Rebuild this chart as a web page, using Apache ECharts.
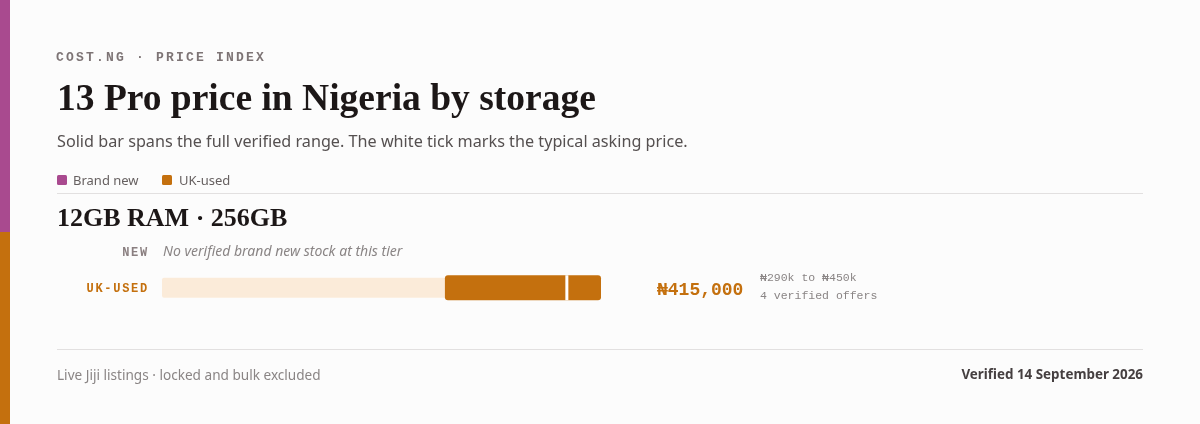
<!DOCTYPE html>
<html><head><meta charset="utf-8">
<script src="https://cdn.jsdelivr.net/npm/echarts@6/dist/echarts.min.js"></script>
<style>html,body{margin:0;padding:0;background:#fcfcfc;}#c{width:1200px;height:424px;}</style>
</head><body><div id="c"></div>
<script>
// ---- data ----
const tiers = ['NEW', 'UK-USED'];
const lowPrice = [null, 290000];
const highPrice = [null, 450000];
const typicalPrice = [null, 415000];
const offerCounts = [0, 4];
const axisMax = 450000;
const legendNames = ['Brand new', 'UK-used'];
const colors = { new: '#a94a8f', used: '#c4700e', track: '#fbebd9' };

const MONO = '"Liberation Mono", "DejaVu Sans Mono", monospace';
const SERIF = '"Liberation Serif", serif';
const SANS = '"Noto Sans", Roboto, sans-serif';

function fmtK(v) { return '\u20A6' + Math.round(v / 1000) + 'k'; }
function fmtFull(v) { return '\u20A6' + v.toLocaleString('en-US'); }
function spaced(str, key) { return str.split('').map(ch => '{' + key + '|' + ch + '}').join(''); }

const seriesData = [];
tiers.forEach((t, i) => {
  if (lowPrice[i] != null) seriesData.push([i, lowPrice[i], highPrice[i], typicalPrice[i]]);
});
const usedIdx = 1;

const chart = echarts.init(document.getElementById('c'), null, { renderer: 'canvas' });
chart.setOption({
  backgroundColor: '#fcfcfc',
  animation: false,
  grid: { left: 162, right: 599, top: 233, height: 73 },
  xAxis: { type: 'value', min: 0, max: axisMax, show: false },
  yAxis: {
    type: 'category', data: tiers, inverse: true,
    axisLine: { show: false }, axisTick: { show: false }, splitLine: { show: false },
    axisLabel: {
      margin: 14,
      formatter: (v, i) => spaced(v, i === 0 ? 'n' : 'u'),
      rich: {
        n: { fontFamily: MONO, fontSize: 12, fontWeight: 'bold', color: '#8a7f80', padding: [3, 0.85, 0, 0.85] },
        u: { fontFamily: MONO, fontSize: 12, fontWeight: 'bold', color: colors.used, padding: [2, 0.85, 0, 0.85] }
      }
    }
  },
  series: [{
    type: 'custom',
    encode: { x: [1, 2, 3], y: 0 },
    data: seriesData,
    renderItem: function (params, api) {
      const y = api.value(0);
      const s = api.coord([0, y]);
      const e = api.coord([axisMax, y]);
      const a = api.coord([api.value(1), y]);
      const b = api.coord([api.value(2), y]);
      const t = api.coord([api.value(3), y]);
      return {
        type: 'group',
        children: [
          { type: 'rect', shape: { x: s[0], y: s[1] - 10, width: e[0] - s[0], height: 20, r: 2 }, style: { fill: colors.track } },
          { type: 'rect', shape: { x: a[0], y: a[1] - 12.5, width: b[0] - a[0], height: 25, r: 3 }, style: { fill: colors.used } },
          { type: 'rect', shape: { x: t[0] - 1.5, y: t[1] - 12.5, width: 3, height: 25 }, style: { fill: '#ffffff' } }
        ]
      };
    }
  }],
  graphic: [
    { type: 'rect', left: 0, top: 0, shape: { width: 10, height: 232 }, style: { fill: colors.new } },
    { type: 'rect', left: 0, top: 232, shape: { width: 10, height: 192 }, style: { fill: colors.used } },
    { type: 'text', left: 56, top: 51, style: { text: spaced('COST.NG \u00B7 PRICE INDEX', 'h'), rich: { h: { fontFamily: MONO, fontSize: 13, fontWeight: 'bold', fill: '#7d7475', padding: [0, 1.1, 0, 1.1] } } } },
    { type: 'text', left: 57, top: 81, style: { text: '13 Pro price in Nigeria by storage', fontFamily: SERIF, fontSize: 37.5, fontWeight: 'bold', fill: '#1c1717' } },
    { type: 'text', left: 57, top: 134, style: { text: 'Solid bar spans the full verified range. The white tick marks the typical asking price.', fontFamily: SANS, fontSize: 16.2, fill: '#555050' } },
    { type: 'rect', left: 57, top: 175, shape: { width: 10, height: 10, r: 1.5 }, style: { fill: colors.new } },
    { type: 'text', left: 73, top: 175, style: { text: legendNames[0], fontFamily: SANS, fontSize: 13, fill: '#666060' } },
    { type: 'rect', left: 162, top: 175, shape: { width: 10, height: 10, r: 1.5 }, style: { fill: colors.used } },
    { type: 'text', left: 179, top: 175, style: { text: legendNames[1], fontFamily: SANS, fontSize: 13, fill: '#666060' } },
    { type: 'rect', left: 57, top: 193, shape: { width: 1086, height: 1 }, style: { fill: '#e2e0e0' } },
    { type: 'text', left: 57, top: 206, style: { text: '12GB RAM \u00B7 256GB', fontFamily: SERIF, fontSize: 26, fontWeight: 'bold', fill: '#1c1717' } },
    { type: 'text', left: 163, top: 245, style: { text: 'No verified brand new stock at this tier', fontFamily: SANS, fontSize: 14, fontStyle: 'italic', fill: '#8a8585' } },
    { type: 'text', left: 657, top: 281, style: { text: fmtFull(typicalPrice[usedIdx]), fontFamily: MONO, fontSize: 18, fontWeight: 'bold', fill: colors.used } },
    { type: 'text', left: 760, top: 272, style: { text: fmtK(lowPrice[usedIdx]) + ' to ' + fmtK(highPrice[usedIdx]), fontFamily: MONO, fontSize: 11.5, fill: '#8a8585' } },
    { type: 'text', left: 760, top: 290, style: { text: offerCounts[usedIdx] + ' verified offers', fontFamily: MONO, fontSize: 11.5, fill: '#8a8585' } },
    { type: 'rect', left: 57, top: 349, shape: { width: 1086, height: 1 }, style: { fill: '#e2e0e0' } },
    { type: 'text', left: 57, top: 369, style: { text: 'Live Jiji listings \u00B7 locked and bulk excluded', fontFamily: SANS, fontSize: 13.6, fill: '#8a8585' } },
    { type: 'text', right: 57, top: 369, style: { text: 'Verified 14 September 2026', fontFamily: SANS, fontSize: 13.4, fontWeight: 'bold', fill: '#453f40' } }
  ]
});
</script></body></html>
